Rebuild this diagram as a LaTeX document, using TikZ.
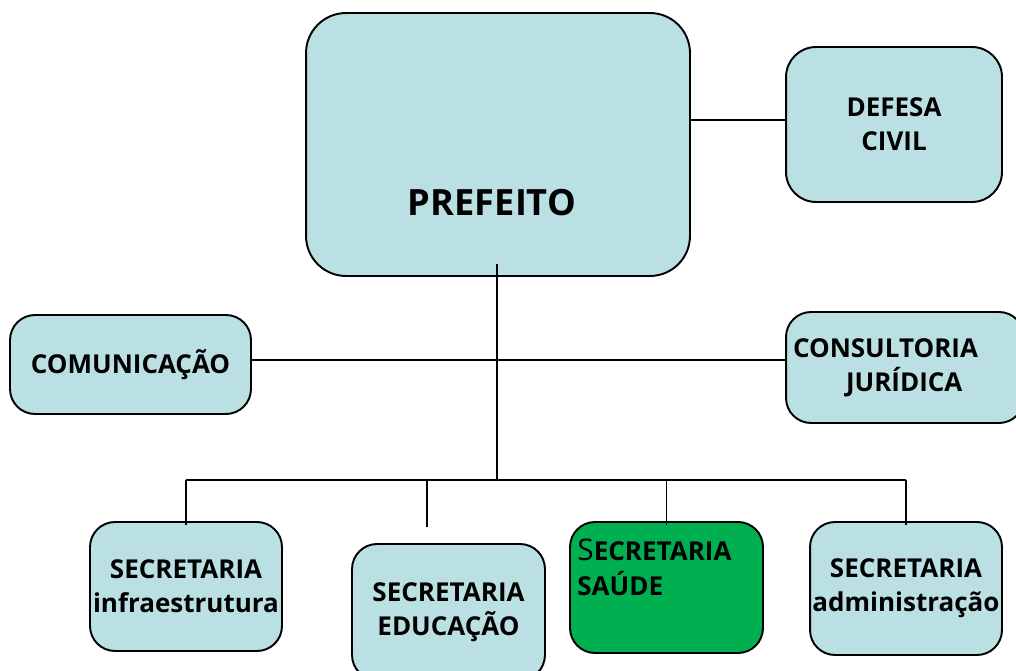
\documentclass[tikz,border=0pt]{standalone}
\usepackage{fontspec}
\setmainfont{Open Sans}
\usetikzlibrary{positioning}
\definecolor{boxblue}{HTML}{BBE0E3}
\definecolor{boxgreen}{HTML}{00B050}

\begin{document}
\begin{tikzpicture}[x=0.02cm, y=-0.02cm,
  org/.style={draw=black, line width=1.1pt, fill=boxblue, rounded corners=0.5cm,
              font=\fontsize{14.8}{19.5}\selectfont\bfseries, align=center, inner sep=0pt},
  link/.style={draw=black, line width=1.1pt}]
\useasboundingbox (0,0) rectangle (1016,671);

%
\node (pref) [org, rounded corners=0.8cm, minimum width=7.68cm, minimum height=5.26cm] at (498,144.5) {};
\node (preftxt) [font=\fontsize{20.6}{24}\selectfont\bfseries] at (492,203) {PREFEITO};
\node (def) [org, rounded corners=0.6cm, minimum width=4.32cm, minimum height=3.1cm] at (894,124.5) {DEFESA\\CIVIL};
\node (com) [org, minimum width=4.82cm, minimum height=1.98cm] at (130.5,364.5) {COMUNICAÇÃO};
\node (cons) [org, minimum width=4.76cm, minimum height=2.22cm, text width=4.48cm, align=left] at (905,367.5)
  {CONSULTORIA\\\hspace*{1.06cm}JURÍDICA};

\node (infra) [org, minimum width=3.84cm, minimum height=2.58cm] at (186,586.5) {SECRETARIA\\infraestrutura};
\node (edu) [org, minimum width=3.86cm, minimum height=2.72cm] at (448.5,612) {SECRETARIA\\EDUCAÇÃO};
\node (sau) [org, fill=boxgreen, minimum width=3.86cm, minimum height=2.62cm] at (666.5,587.5) {};
\node (sautxt) [font=\fontsize{14.8}{19.5}\selectfont\bfseries, align=left, anchor=north west, inner sep=0pt] at (577,539)
  {{\mdseries\fontsize{17}{19.5}\selectfont S}ECRETARIA\\SAÚDE};
\node (adm) [org, minimum width=3.84cm, minimum height=2.66cm] at (906,588.5) {SECRETARIA\\administração};

%
\coordinate (top) at (497,264);
\coordinate (bus) at (497,480);
\coordinate (edudrop) at (427,527);

\draw[link] (pref.east |- 0,120) -- (def.west |- 0,120);
\draw[link] (top) -- (bus);
\draw[link] (com.east |- 0,360) -- (cons.west |- 0,360);
\draw[link] (infra.north |- bus) -- (adm.north |- bus);
\draw[link] (infra.north |- bus) -- ([yshift=-0.08cm]infra.north);
\draw[link] (edudrop |- bus) -- (edudrop);
\draw[link] (sau.north |- bus) -- ([yshift=-0.08cm]sau.north);
\draw[link] (adm.north |- bus) -- ([yshift=-0.08cm]adm.north);

\end{tikzpicture}
\end{document}
